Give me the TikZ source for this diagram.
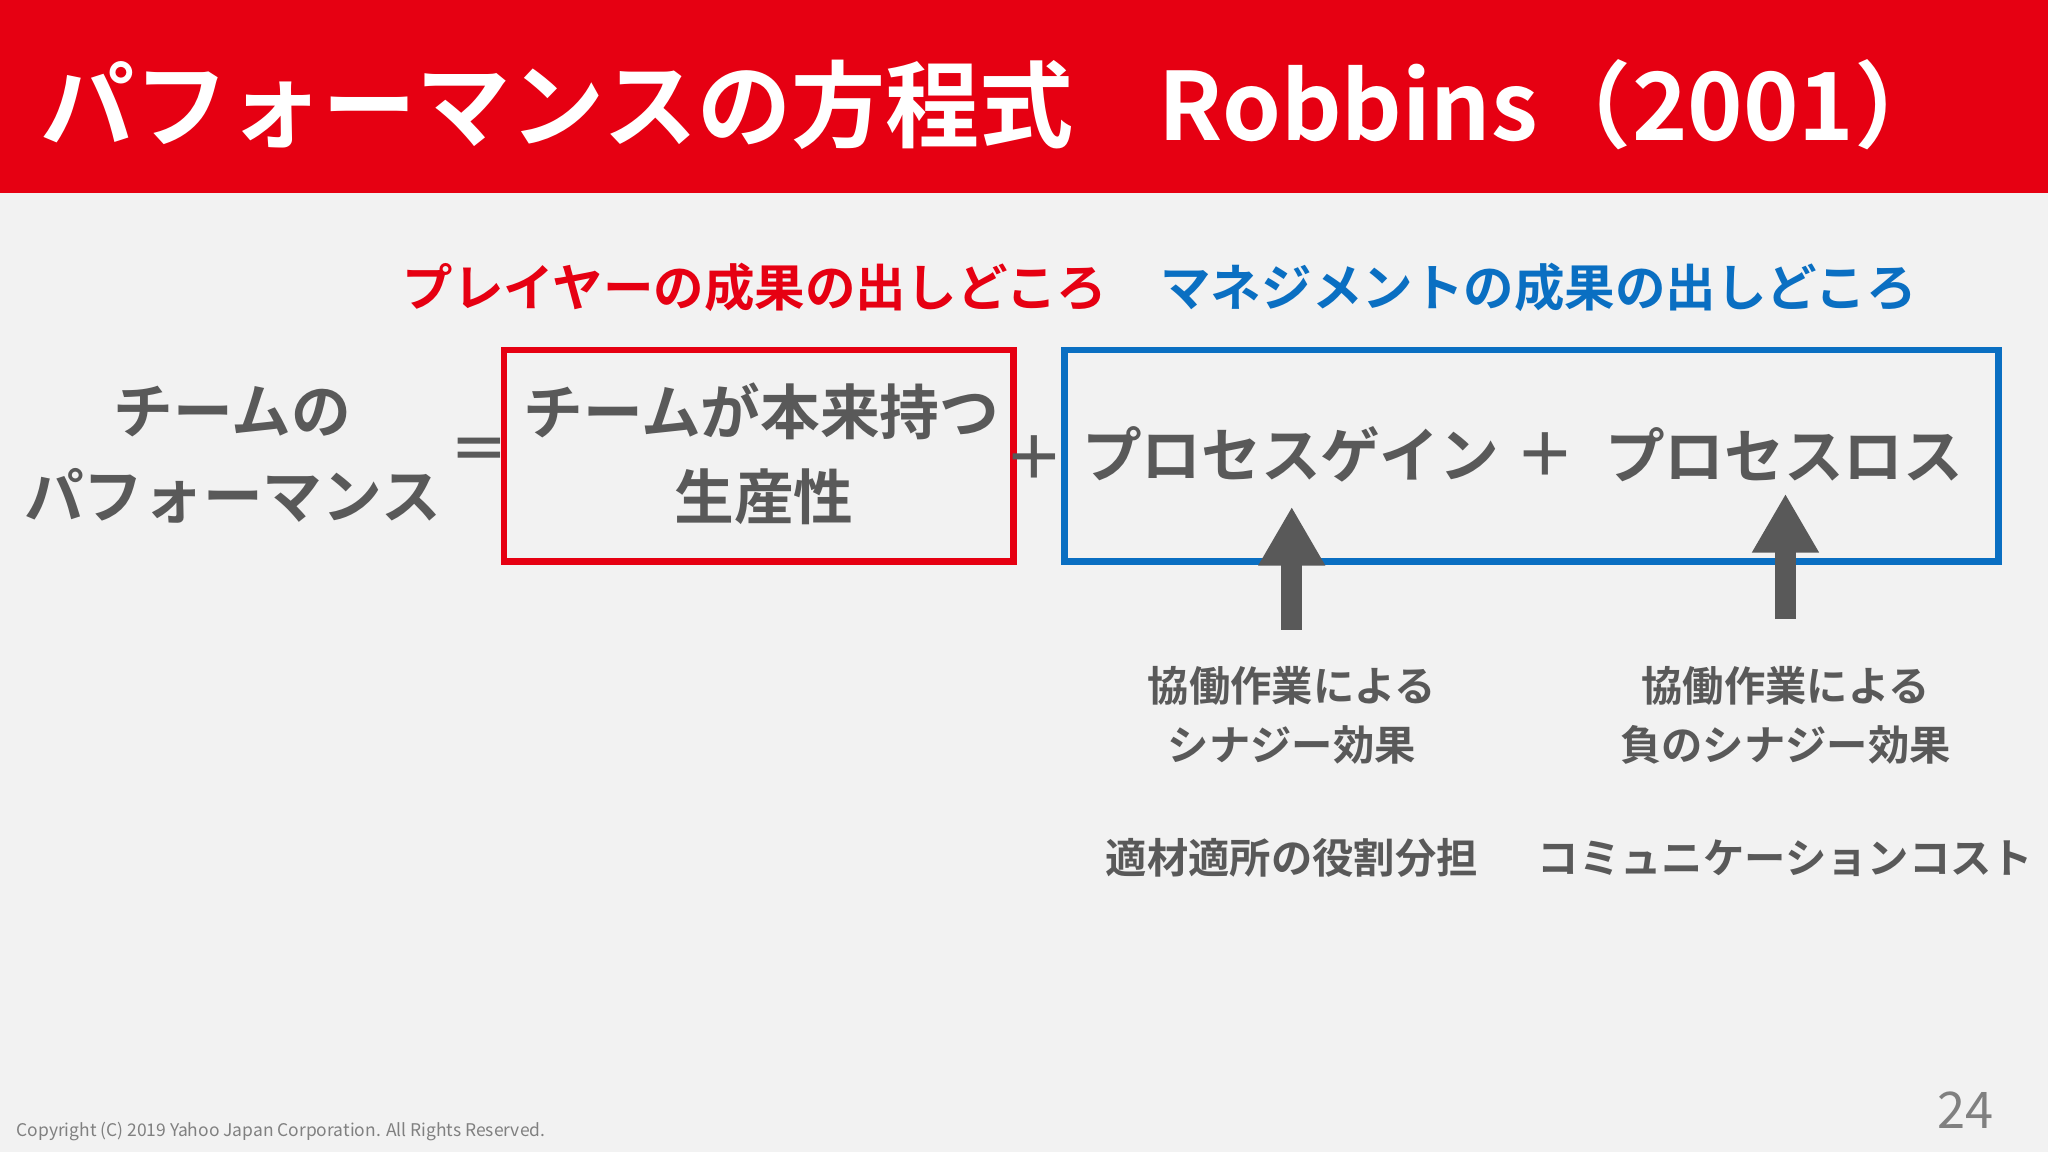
\documentclass[tikz,border=0pt]{standalone}
\usepackage{fontspec}
\setmainfont{Noto Sans CJK JP}[BoldFont={* Bold}]
\usetikzlibrary{arrows.meta}
\definecolor{ttred}{HTML}{E60012}
\definecolor{ttblue}{HTML}{0A6FC2}
\definecolor{ttgray}{HTML}{595959}
\definecolor{ttbg}{HTML}{F2F2F2}
\tikzset{
 big/.style={font=\fontsize{13}{15}\selectfont\bfseries, text=ttgray, inner sep=0},
 sub/.style={font=\fontsize{11}{13}\selectfont\bfseries, inner sep=0},
 small/.style={font=\fontsize{9}{11}\selectfont\bfseries, text=ttgray, inner sep=0},
 box/.style={line width=0.05cm},
 uparrow/.style={draw=ttgray, line width=0.16cm, -{Triangle[width=0.48cm,length=0.45cm]}}
}
\begin{document}
\begin{tikzpicture}[x=0.01cm,y=-0.01cm]
\useasboundingbox (0,0) rectangle (1568,882);
\fill[ttbg] (0,0) rectangle (1568,882);
\fill[ttred] (0,0) rectangle (1568,148);
\node[anchor=west, text=white, font=\fontsize{20.5}{24}\selectfont\bfseries, inner sep=0] (title) at (30,80) {パフォーマンスの方程式\hspace{0.65cm}Robbins（2001）};
\node[sub, text=ttred] (s1) at (578,220) {プレイヤーの成果の出しどころ};
\node[sub, text=ttblue] (s2) at (1178,220) {マネジメントの成果の出しどころ};
\node[big] (l1) at (178,315) {チームの};
\node[big] (l2) at (178,380) {パフォーマンス};
\node[big] (eq) at (367,348) {＝};
\draw[box, ttred] (386,268) rectangle (776,430);
\node[big] (r1) at (583,315) {チームが本来持つ};
\node[big] (r2) at (585,380) {生産性};
\node[big] (pl) at (792,350) {＋};
\draw[box, ttblue] (815,268) rectangle (1530,430);
\node[big] (pg) at (988,348) {プロセスゲイン};
\node[big] (p2) at (1183,348) {＋};
\node[big] (pls) at (1366,348) {プロセスロス};
\coordinate (a1s) at (989,482);
\coordinate (a1e) at (989,388);
\coordinate (a2s) at (1367,474);
\coordinate (a2e) at (1367,378);
\draw[uparrow] (a1s) -- (a1e);
\draw[uparrow] (a2s) -- (a2e);
\node[small] (g1) at (989,525) {協働作業による};
\node[small] (g2) at (989,570) {シナジー効果};
\node[small] (n1) at (1367,525) {協働作業による};
\node[small] (n2) at (1367,570) {負のシナジー効果};
\node[small] (g3) at (989,657) {適材適所の役割分担};
\node[small] (n3) at (1367,657) {コミュニケーションコスト};
\node[anchor=west, inner sep=0, text=gray, font=\fontsize{3.8}{5}\selectfont] (c) at (12,866) {Copyright (C) 2019 Yahoo Japan Corporation. All Rights Reserved.};
\node[inner sep=0, text=gray, font=\fontsize{11}{13}\selectfont] (pn) at (1505,850) {24};
\end{tikzpicture}
\end{document}
